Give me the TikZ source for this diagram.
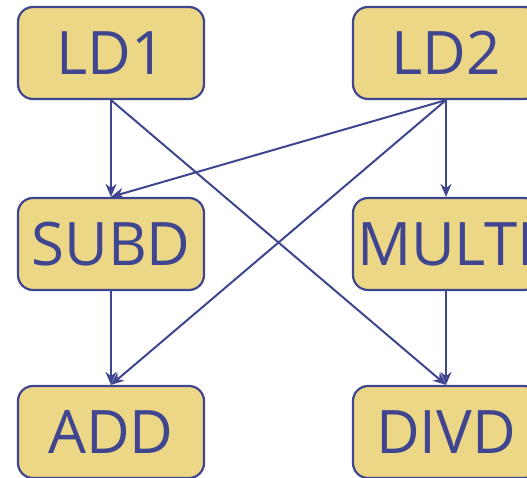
\documentclass[tikz,border=0pt]{standalone}
\usepackage{fontspec}
\setmainfont{Open Sans}
\usetikzlibrary{arrows.meta}
\definecolor{boxfill}{HTML}{EBD785}
\definecolor{ink}{HTML}{404590}
\begin{document}
\begin{tikzpicture}[x=1pt,y=-1pt,
  opbox/.style={draw=ink,fill=boxfill,line width=2.2pt,rounded corners=15pt,
    minimum width=186pt,minimum height=92pt,inner sep=0pt,text=ink,
    font=\fontsize{60}{60}\selectfont},
  link/.style={draw=ink,line width=2pt,-{Stealth[length=13pt,width=11pt]}}]
\useasboundingbox (0,0) rectangle (527,478);
\node[opbox] (ld1) at (111,53) {LD1};
\node[opbox] (ld2) at (446,53) {LD2};
\node[opbox] (subd) at (111,244) {SUBD};
\node[opbox] (multd) at (446,244) {\makebox[178pt][l]{MULTD}};
\node[opbox] (add) at (111,432) {ADD};
\node[opbox] (divd) at (446,432) {DIVD};
\draw[link] (ld1.south) -- (subd.north);
\draw[link] (ld1.south) -- (divd.north);
\draw[link] (ld2.south) -- (subd.north);
\draw[link] (ld2.south) -- (add.north);
\draw[link] (ld2.south) -- (multd.north);
\draw[link] (subd.south) -- (add.north);
\draw[link] (multd.south) -- (divd.north);
\end{tikzpicture}
\end{document}
